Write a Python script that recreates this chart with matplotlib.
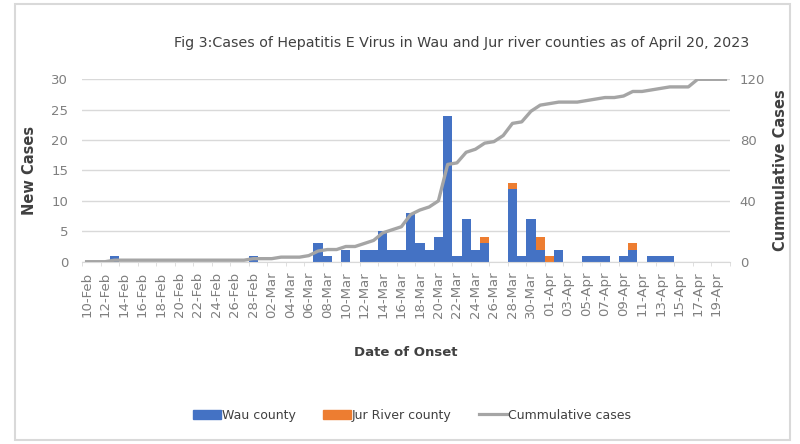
import numpy as np
import pandas as pd
import matplotlib
matplotlib.use("Agg")
import matplotlib.pyplot as plt
from matplotlib.patches import Rectangle, Patch
from matplotlib.lines import Line2D

# daily categories 10-Feb .. 20-Apr 2023
dates = pd.date_range("2023-02-10", "2023-04-20", freq="D")
day_labels = [d.strftime("%d-%b") for d in dates]

# new cases per day, Wau county
wau = [0, 0, 0, 1, 0, 0, 0, 0, 0, 0,
       0, 0, 0, 0, 0, 0, 0, 0, 1, 0,
       0, 0, 0, 0, 0, 3, 1, 0, 2, 0,
       2, 2, 5, 2, 2, 8, 3, 2, 4, 24,
       1, 7, 2, 3, 0, 0, 12, 1, 7, 2,
       0, 2, 0, 0, 1, 1, 1, 0, 1, 2,
       0, 1, 1, 1, 0, 0, 0, 0, 0, 0]

# new cases per day, Jur River county
jur = [0, 0, 0, 0, 0, 0, 0, 0, 0, 0,
       0, 0, 0, 0, 0, 0, 0, 0, 0, 0,
       0, 0, 0, 0, 0, 0, 0, 0, 0, 0,
       0, 0, 0, 0, 0, 0, 0, 0, 0, 0,
       0, 0, 0, 1, 0, 0, 1, 0, 0, 2,
       1, 0, 0, 0, 0, 0, 0, 0, 0, 1,
       0, 0, 0, 0, 0, 0, 0, 0, 0, 0]

# cumulative cases as drawn by the line
cumulative = [0, 0, 0, 1, 1, 1, 1, 1, 1, 1,
              1, 1, 1, 1, 1, 1, 1, 1, 2, 2,
              2, 3, 3, 3, 4, 7, 8, 8, 10, 10,
              12, 14, 19, 21, 23, 31, 34, 36, 40, 64,
              65, 72, 74, 78, 79, 83, 91, 92, 99, 103,
              104, 105, 105, 105, 106, 107, 108, 108, 109, 112,
              112, 113, 114, 115, 115, 115, 120, 120, 120, 120]

BLUE = "#4472C4"
ORANGE = "#ED7D31"
GREY = "#A5A5A5"
TXT = "#7F7F7F"
DARK = "#404040"

fig = plt.figure(figsize=(8, 4.44), dpi=100)
fig.patches.append(Rectangle((15 / 800, 4 / 444), 775 / 800, 436 / 444,
                             transform=fig.transFigure, fill=False,
                             edgecolor="#D9D9D9", linewidth=1.5))

ax = fig.add_axes([82 / 800, 1 - 261.7 / 444, 648 / 800, 182.4 / 444])
x = np.arange(len(dates))
ax.bar(x, wau, width=1.0, color=BLUE, zorder=2)
ax.bar(x, jur, width=1.0, bottom=wau, color=ORANGE, zorder=2)
ax.set_xlim(-0.5, len(dates) - 0.5)
ax.set_ylim(0, 30)
ax.set_yticks([0, 5, 10, 15, 20, 25, 30])
ax.grid(axis="y", color="#D9D9D9", linewidth=1, zorder=0)
ax.set_axisbelow(True)
for s in ["top", "right", "left"]:
    ax.spines[s].set_visible(False)
ax.spines["bottom"].set_color("#D9D9D9")

ax.set_xticks(x[::2])
ax.set_xticklabels(day_labels[::2], rotation=90, fontsize=9.5, color=TXT)
ax.set_xticks(np.arange(-0.5, len(dates), 2), minor=True)
ax.tick_params(axis="x", which="major", length=0, pad=7)
ax.tick_params(axis="x", which="minor", length=3, color="#D9D9D9")
ax.tick_params(axis="y", length=0, labelsize=9.5, labelcolor=TXT, pad=10)

ax.set_ylabel("New Cases", fontsize=10.5, fontweight="bold", color=DARK,
              labelpad=10)
ax.set_xlabel("Date of Onset", fontsize=9.5, fontweight="bold", color=DARK,
              labelpad=20)

ax2 = ax.twinx()
ax2.plot(x, cumulative, color=GREY, linewidth=2.4, zorder=3)
ax2.set_ylim(0, 120)
ax2.set_yticks([0, 40, 80, 120])
ax2.tick_params(axis="y", length=0, labelsize=9.5, labelcolor=TXT, pad=7)
for s in ax2.spines.values():
    s.set_visible(False)
ax2.set_ylabel("Cummulative Cases", fontsize=10.5, fontweight="bold",
               color=DARK, labelpad=6)

fig.text(462 / 800, 1 - 43 / 444,
         "Fig 3:Cases of Hepatitis E Virus in Wau and Jur river counties as of April 20, 2023",
         ha="center", va="center", fontsize=10.3, color=DARK)

handles = [Patch(color=BLUE), Patch(color=ORANGE),
           Line2D([0], [0], color=GREY, linewidth=2.3)]
fig.legend(handles, ["Wau county", "Jur River county", "Cummulative cases"],
           loc="center", bbox_to_anchor=(0.515, 1 - 415 / 444), ncol=3,
           frameon=False, fontsize=9, labelcolor=DARK, handlelength=2.2,
           handletextpad=0.1, columnspacing=2.2)

fig.savefig("out.png", dpi=100)
